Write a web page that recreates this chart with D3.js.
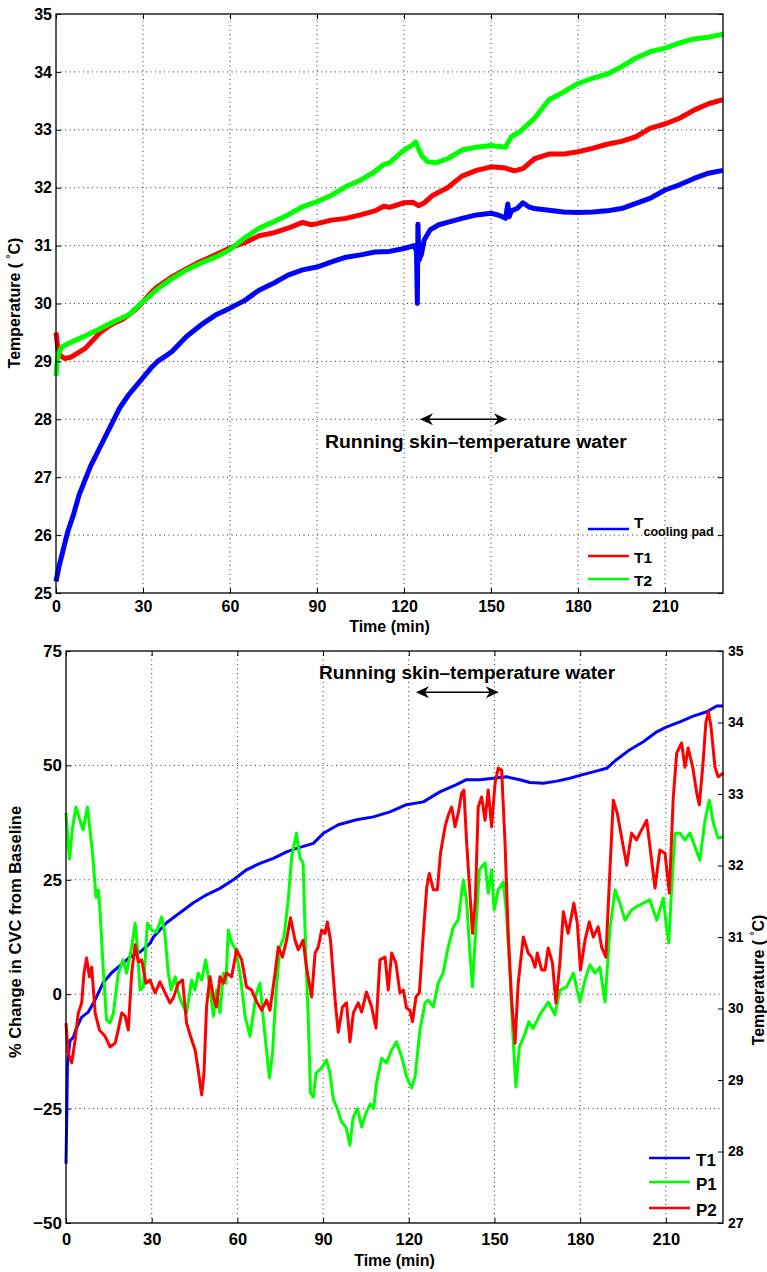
<!DOCTYPE html>
<html>
<head>
<meta charset="utf-8">
<script src="https://cdn.jsdelivr.net/npm/d3@7"></script>
<style>
  body { margin: 0; background: #fff; }
  svg { display: block; font-family: "Liberation Sans", Arial, Helvetica, sans-serif; font-weight: bold; }
</style>
</head>
<body>
<svg id="chart" width="767" height="1272"></svg>
<script>
// ---- data: [time (min), value] ----

// top panel, temperatures (°C)
const padTemp = [[0,25.2],[1,25.45],[2,25.65],[4,26.05],[6,26.35],[8,26.7],[10,26.95],[12,27.2],[15,27.5],[18,27.8],[20,28.0],[22,28.2],[25,28.42],[28,28.6],[30,28.72],[33,28.9],[35,29.0],[38,29.1],[40,29.17],[45,29.43],[50,29.63],[55,29.8],[60,29.92],[65,30.05],[70,30.23],[75,30.35],[80,30.49],[85,30.58],[90,30.63],[95,30.72],[100,30.8],[105,30.84],[110,30.89],[115,30.9],[120,30.95],[123.5,31.0],[124.3,30.9],[124.6,30.0],[124.8,31.37],[125.2,30.75],[126,30.85],[127,31.1],[129,31.27],[132,31.36],[135,31.4],[140,31.47],[145,31.53],[150,31.56],[153,31.52],[155,31.47],[155.8,31.72],[156.3,31.5],[157,31.6],[159,31.64],[161,31.74],[163,31.67],[165,31.64],[170,31.61],[175,31.58],[180,31.57],[185,31.58],[190,31.6],[195,31.64],[200,31.73],[205,31.82],[210,31.96],[215,32.05],[220,32.16],[225,32.25],[230,32.3]];
const t1Temp = [[0,29.5],[0.7,29.2],[1.5,29.1],[3,29.05],[5,29.07],[7,29.13],[10,29.22],[13,29.38],[15,29.49],[18,29.6],[20,29.66],[23,29.73],[25,29.8],[28,29.92],[30,30.03],[33,30.2],[35,30.29],[40,30.46],[45,30.6],[50,30.73],[55,30.84],[60,30.96],[65,31.05],[70,31.17],[75,31.22],[80,31.3],[85,31.4],[88,31.36],[90,31.38],[95,31.44],[100,31.47],[105,31.53],[110,31.6],[113,31.68],[115,31.66],[120,31.74],[123,31.75],[125,31.69],[127,31.74],[130,31.87],[135,32.0],[140,32.2],[145,32.3],[150,32.36],[155,32.34],[158,32.29],[161,32.33],[165,32.5],[170,32.58],[175,32.58],[180,32.62],[185,32.68],[190,32.75],[195,32.8],[200,32.88],[205,33.03],[210,33.1],[215,33.2],[220,33.34],[225,33.45],[230,33.52]];
const t2Temp = [[0,28.75],[0.4,29.0],[1,29.15],[2,29.25],[4,29.3],[6,29.35],[10,29.44],[15,29.56],[20,29.69],[25,29.8],[30,30.03],[35,30.25],[40,30.43],[45,30.58],[50,30.7],[55,30.8],[60,30.93],[65,31.13],[70,31.3],[75,31.41],[80,31.53],[85,31.67],[90,31.76],[95,31.87],[100,32.02],[105,32.13],[110,32.28],[113,32.4],[115,32.43],[120,32.65],[123,32.74],[124,32.79],[126,32.56],[128,32.45],[131,32.43],[135,32.5],[140,32.65],[145,32.7],[150,32.73],[155,32.7],[157,32.88],[160,32.97],[165,33.2],[170,33.52],[175,33.65],[180,33.8],[185,33.89],[190,33.96],[195,34.09],[200,34.24],[205,34.35],[210,34.41],[215,34.5],[220,34.57],[225,34.6],[230,34.65]];

// bottom panel, % change in CVC (left axis) and T1 (right axis)
const p1Cvc = [[0,39.6],[1.2,29.5],[2.2,36],[3.5,40.9],[4.9,38],[6,35.9],[7.5,40.9],[8.4,35.9],[9.4,30],[10.5,21.2],[11.3,22.8],[11.9,18.4],[13.1,4.6],[14.2,-5.6],[15.4,-6.3],[16.6,-4.1],[18.3,4.6],[20,7.5],[21.2,4.6],[23,10.3],[24.2,15.5],[25,10.3],[25.9,0.9],[27.1,1.6],[28.5,15.5],[30,14],[31.7,13.6],[33.5,16.9],[34.6,13.3],[35.8,4.6],[36.8,0.9],[38.2,3.8],[39.3,0.3],[40.5,-1.9],[42.2,-4.1],[44,3.1],[45.1,0.9],[46.3,4.6],[47.5,3.1],[48.9,7.5],[50,3.1],[51.6,-4.8],[52.7,0.9],[53.9,-4.1],[55.1,4.6],[56,2.4],[56.8,14],[58,11.2],[59.2,10.1],[60.9,4.6],[62.7,-4.8],[64.4,-9.2],[65.6,-4.1],[66.7,0.3],[67.9,2.4],[69.1,-5.6],[70.2,-12.2],[71.2,-18.3],[72.3,-12.9],[73.5,0.3],[74.9,10.3],[76.3,12.5],[77.8,20.6],[79,30],[80.7,35.2],[81.9,29.8],[83,28.7],[84,7.5],[84.8,-5],[85.6,-21.6],[86.6,-22.5],[87.5,-17.3],[89.5,-16.1],[91.2,-14.4],[92.4,-17.3],[93.6,-23],[95,-25],[96.5,-28],[98,-29],[99.4,-33],[100.5,-27],[102,-25],[103.5,-29],[105,-26],[106.5,-24],[107.7,-25],[108.7,-19.4],[110.5,-14],[112.2,-15],[114,-12.2],[115.7,-10.4],[117.5,-13.7],[119.2,-18],[121,-20.5],[122.2,-18],[123.9,-7.8],[125.7,-1.9],[126.8,-1.3],[128.6,-2.8],[130.3,2.4],[132,4.6],[133.8,10.3],[135.6,14.7],[137.3,16.2],[139.1,25],[140.2,20.6],[141.4,9],[142.3,1.6],[143.5,14.7],[144.7,27.2],[146.7,28.7],[147.8,22.1],[149,27.2],[149.9,18.4],[151.3,22.8],[153.1,24.5],[154.2,17.7],[155.4,4.6],[156.3,-7.2],[157.5,-20.3],[158.7,-11.5],[160.5,-9],[162,-6],[163.5,-7.5],[165.9,-4.5],[168.8,-1.7],[171.2,-4.5],[172.9,0.9],[175.3,1.6],[177.6,4.6],[179.9,-1.7],[181.7,3.1],[183.4,6.4],[185.2,4.6],[186.9,5.9],[188.7,-1.7],[190.4,14],[192.2,22.8],[193.9,19.9],[195.7,16.2],[198,18.4],[199.7,19.1],[202.1,19.9],[204.4,20.6],[206.8,16.2],[209.1,21],[210.2,14.7],[211,11.2],[212,22.8],[213.2,35.2],[214.9,35.2],[216.7,33.7],[218.4,35.2],[220.2,32.2],[221.9,29.3],[223.7,38],[225.2,42.4],[226.6,37.4],[228.3,34.1],[230,34.4]];
const p2Cvc = [[0,-6.3],[0.8,-12.9],[2,-15],[3.2,-10],[4.3,-4.1],[5.5,-1.9],[6.3,4.6],[7.2,7.9],[8.2,3.8],[9,5.9],[10.2,-4.1],[11.7,-7.8],[13.7,-9.2],[15.4,-11.5],[17.2,-10.7],[18.3,-7.8],[19.5,-4.1],[20.7,-4.8],[21.8,-7.8],[23,4.6],[24.2,10.8],[25.3,7.1],[26.5,7.5],[28,2.4],[29.4,3.1],[31.2,0.3],[32.9,2.7],[34.7,0.3],[36.4,-1.9],[37.6,-0.8],[39.3,2.4],[40.8,3.1],[42.2,-6.3],[43.6,-9.2],[45.2,-12.2],[46.3,-16.6],[47.5,-22],[48.3,-17.3],[49.2,-2.8],[50.4,3.8],[51.6,-0.6],[52.7,-2.8],[53.9,3.8],[55.1,2.4],[56.2,4.6],[58,3.8],[59.7,9.7],[61.5,7.5],[63.2,1.6],[65,0.9],[66.7,-1.6],[68.5,-3.5],[70.2,-1.3],[71.4,-3.5],[73.2,4.6],[74.3,10.3],[75.8,8.1],[77.2,11.8],[78.6,16.7],[80.2,11.8],[81.3,9.7],[83,11.8],[84.2,5.9],[86,-0.6],[87.2,9],[88.3,10.3],[89.5,14],[90.7,13.3],[91.5,15.8],[92.6,11.8],[94.2,-1.3],[95.3,-8.3],[96.8,-2.8],[98.2,-1.9],[99.4,-10.4],[100.6,-4.1],[102.3,-1.9],[103.5,-3.9],[105.2,0.5],[107,-2.8],[108.5,-7.4],[109.9,7.5],[111.7,8.1],[112.8,0.9],[114,9],[115.5,6.8],[116.9,0.3],[118.1,0.9],[119.2,-3],[120.4,-3.5],[121.3,-6],[122.5,-0.6],[123.7,0.3],[125.1,13.3],[126.3,23.5],[127.2,26.4],[128.6,22.8],[130,22.8],[131.1,30.8],[132.7,36.6],[133.8,39.1],[135,40.9],[136.2,36.6],[137.3,39.5],[138.5,43.9],[139.3,44.6],[140.2,33.7],[141.4,22.1],[142.3,13.3],[143.3,20.6],[144.3,40.9],[145.5,43.1],[146.7,38],[147.8,44.6],[149,36.6],[150.2,46.1],[151.3,49.4],[152.5,49],[153.7,33],[154.8,13.3],[156,-1.3],[157.2,-10.7],[158.3,2.4],[160.1,12.5],[161.8,9],[163,8.1],[164.2,5.9],[165,9],[166.5,5.3],[167.7,5.3],[168.8,10.1],[170.3,6.8],[171.5,-1.9],[172.9,6.8],[174.1,18],[175.8,13.3],[177.8,19.9],[179,15.5],[180.1,5.3],[181.7,11.8],[183.2,15.8],[184.6,12.5],[186.3,14.7],[187.5,10.3],[189,8.1],[190.2,24.3],[191.6,42.4],[193,39.5],[195.1,32.2],[196.3,28.2],[198,35.2],[199.7,33.7],[201.5,35.9],[203.3,38],[204.7,30.8],[206.2,23.2],[207.9,31.5],[209.7,30.8],[211.2,22.1],[212.6,43.1],[213.8,52.7],[215.5,54.9],[216.7,49.6],[217.8,53.8],[219.4,49.6],[220.8,44],[221.7,41.4],[222.9,49.6],[224,59.3],[224.9,61.7],[225.8,58.4],[227.2,49.6],[228.3,47.5],[230,48.3]];
const t1Right = [[0,27.83],[0.3,28.6],[0.5,29.2],[1.4,29.55],[2.6,29.6],[3.7,29.73],[5.5,29.88],[7.8,29.95],[10.2,30.12],[13,30.36],[16,30.5],[18.9,30.6],[22.4,30.72],[25.9,30.79],[29.4,30.91],[30.6,31.0],[35.2,31.2],[39.9,31.34],[44.6,31.48],[49.2,31.59],[53.9,31.68],[58.6,31.8],[63.2,31.94],[67.9,32.03],[72.6,32.1],[77.2,32.19],[80.7,32.24],[86.6,32.31],[90.1,32.45],[95.3,32.57],[101.7,32.64],[107.6,32.68],[113.4,32.75],[119.2,32.85],[125.1,32.89],[130.9,33.03],[136.7,33.13],[140.2,33.2],[144.9,33.2],[149.6,33.22],[154.2,33.24],[158.9,33.2],[162.4,33.16],[167.1,33.15],[171.8,33.18],[176.4,33.22],[179.9,33.26],[184.6,33.31],[189.3,33.36],[192.7,33.48],[197.4,33.62],[202.1,33.73],[206.8,33.87],[210.3,33.94],[214.9,34.01],[219.6,34.09],[224.3,34.15],[227.8,34.23],[230,34.23]];

// ticks
const minuteTicks = [0, 30, 60, 90, 120, 150, 180, 210];
const topTempTicks = [25, 26, 27, 28, 29, 30, 31, 32, 33, 34, 35];
const cvcTicks = [-50, -25, 0, 25, 50, 75];
const rightTempTicks = [27, 28, 29, 30, 31, 32, 33, 34, 35];

// legends
const topNames = ['T1', 'T2'];
const bottomNames = ['T1', 'P1', 'P2'];
const blue = '#0000ff', red = '#ff0000', green = '#00ff00';

const svg = d3.select('#chart');
svg.append('rect').attr('width', 767).attr('height', 1272).attr('fill', '#fff');

function drawGrid(g, x, y, xTicks, yTicks) {
  const [x0, x1] = x.range();
  const [y0, y1] = y.range();
  const inner = (s, t) => t.filter(d => d > s.domain()[0] && d < s.domain()[1]);
  g.selectAll(null).data(inner(x, xTicks)).join('line')
    .attr('x1', d => x(d)).attr('x2', d => x(d)).attr('y1', y0).attr('y2', y1);
  g.selectAll(null).data(inner(y, yTicks)).join('line')
    .attr('y1', d => y(d)).attr('y2', d => y(d)).attr('x1', x0).attr('x2', x1);
  g.attr('stroke', '#333').attr('stroke-width', 1).attr('stroke-dasharray', '1,3.5');
}

function styleAxis(g, size) {
  g.attr('font-family', null).attr('font-size', size);
  g.select('.domain').remove();
  g.selectAll('.tick line').attr('stroke', '#000').attr('stroke-width', 1);
  g.selectAll('.tick text').attr('fill', '#000');
}

function dblArrow(g, xa, xb, y) {
  g.append('line').attr('x1', xa + 4).attr('x2', xb - 4).attr('y1', y).attr('y2', y)
    .attr('stroke', '#000').attr('stroke-width', 1.5);
  g.append('path').attr('d', `M${xa},${y}L${xa + 13},${y - 6}L${xa + 9},${y}L${xa + 13},${y + 6}Z`).attr('fill', '#000');
  g.append('path').attr('d', `M${xb},${y}L${xb - 13},${y - 6}L${xb - 9},${y}L${xb - 13},${y + 6}Z`).attr('fill', '#000');
}

function tempTitle(g, transform) {
  const t = g.append('text').attr('transform', transform)
    .attr('text-anchor', 'middle').attr('font-size', 16);
  t.append('tspan').text('Temperature ( ');
  t.append('tspan').attr('dy', -6).attr('font-size', 10).text('°');
  t.append('tspan').attr('dy', 6).text('C)');
}

// ================= top panel =================
const xTop = d3.scaleLinear().domain([0, 230]).range([56, 723]);
const yTop = d3.scaleLinear().domain([25, 35]).range([593, 14]);
const topPanel = svg.append('g');

drawGrid(topPanel.append('g'), xTop, yTop, minuteTicks, topTempTicks);

const lineTop = d3.line().x(d => xTop(d[0])).y(d => yTop(d[1]));
[[padTemp, blue], [t1Temp, red], [t2Temp, green]].forEach(([data, c]) => {
  topPanel.append('path').datum(data).attr('d', lineTop).attr('fill', 'none')
    .attr('stroke', c).attr('stroke-width', 5).attr('stroke-linejoin', 'round');
});

topPanel.append('g').attr('transform', 'translate(0,593)')
  .call(d3.axisBottom(xTop).tickValues(minuteTicks).tickSize(-5).tickPadding(8))
  .call(styleAxis, 16);
topPanel.append('g').attr('transform', 'translate(0,14)')
  .call(d3.axisTop(xTop).tickValues(minuteTicks).tickSize(-5).tickFormat(''))
  .call(styleAxis, 16);
topPanel.append('g').attr('transform', 'translate(56,0)')
  .call(d3.axisLeft(yTop).tickValues(topTempTicks).tickSize(-5).tickPadding(4))
  .call(styleAxis, 16);
topPanel.append('g').attr('transform', 'translate(723,0)')
  .call(d3.axisRight(yTop).tickValues(topTempTicks).tickSize(-5).tickFormat(''))
  .call(styleAxis, 16);
topPanel.append('rect').attr('x', 56).attr('y', 14).attr('width', 667).attr('height', 579)
  .attr('fill', 'none').attr('stroke', '#000').attr('stroke-width', 1.3);

topPanel.append('text').attr('x', 389.5).attr('y', 632).attr('text-anchor', 'middle')
  .attr('font-size', 16).text('Time (min)');
tempTitle(topPanel, 'translate(20,303) rotate(-90)');

dblArrow(topPanel, xTop(125.5), xTop(155.5), yTop(28));
topPanel.append('text').attr('x', xTop(144.8)).attr('y', yTop(27.5)).attr('text-anchor', 'middle')
  .attr('font-size', 18).attr('textLength', 302).attr('lengthAdjust', 'spacingAndGlyphs')
  .text('Running skin\u2013temperature water');

// legend
const legTop = topPanel.append('g');
const legTopY = [529, 556, 579];
[blue, red, green].forEach((c, i) => {
  legTop.append('line').attr('x1', 588).attr('x2', 629).attr('y1', legTopY[i]).attr('y2', legTopY[i])
    .attr('stroke', c).attr('stroke-width', 2.5);
});
const padLabel = legTop.append('text').attr('x', 634).attr('y', legTopY[0] - 1).attr('font-size', 15.5);
padLabel.append('tspan').text('T');
padLabel.append('tspan').attr('dy', 8).attr('font-size', 12.5).text('cooling pad');
topNames.forEach((n, i) => {
  legTop.append('text').attr('x', 634).attr('y', legTopY[i + 1] + 7).attr('font-size', 15.5).text(n);
});

// ================= bottom panel =================
const xBot = d3.scaleLinear().domain([0, 230]).range([66, 723]);
const yLeft = d3.scaleLinear().domain([-50, 75]).range([1223, 651]);
const yRight = d3.scaleLinear().domain([27, 35]).range([1223, 651]);
const botPanel = svg.append('g');

drawGrid(botPanel.append('g'), xBot, yLeft, minuteTicks, cvcTicks);

const lineLeft = d3.line().x(d => xBot(d[0])).y(d => yLeft(d[1]));
const lineRight = d3.line().x(d => xBot(d[0])).y(d => yRight(d[1]));
botPanel.append('path').datum(t1Right).attr('d', lineRight).attr('fill', 'none')
  .attr('stroke', blue).attr('stroke-width', 3).attr('stroke-linejoin', 'round');
botPanel.append('path').datum(p1Cvc).attr('d', lineLeft).attr('fill', 'none')
  .attr('stroke', green).attr('stroke-width', 3).attr('stroke-linejoin', 'round');
botPanel.append('path').datum(p2Cvc).attr('d', lineLeft).attr('fill', 'none')
  .attr('stroke', red).attr('stroke-width', 3).attr('stroke-linejoin', 'round');

botPanel.append('g').attr('transform', 'translate(0,1223)')
  .call(d3.axisBottom(xBot).tickValues(minuteTicks).tickSize(-5).tickPadding(10))
  .call(styleAxis, 16.5);
botPanel.append('g').attr('transform', 'translate(0,651)')
  .call(d3.axisTop(xBot).tickValues(minuteTicks).tickSize(-5).tickFormat(''))
  .call(styleAxis, 16.5);
botPanel.append('g').attr('transform', 'translate(66,0)')
  .call(d3.axisLeft(yLeft).tickValues(cvcTicks).tickSize(-5).tickPadding(4))
  .call(styleAxis, 17);
botPanel.append('g').attr('transform', 'translate(723,0)')
  .call(d3.axisRight(yRight).tickValues(rightTempTicks).tickSize(-5).tickPadding(5))
  .call(styleAxis, 14);
botPanel.append('rect').attr('x', 66).attr('y', 651).attr('width', 657).attr('height', 572)
  .attr('fill', 'none').attr('stroke', '#000').attr('stroke-width', 1.3);

botPanel.append('text').attr('x', 394.5).attr('y', 1266).attr('text-anchor', 'middle')
  .attr('font-size', 16).text('Time (min)');
botPanel.append('text').attr('transform', 'translate(21,932) rotate(-90)')
  .attr('text-anchor', 'middle').attr('font-size', 16.5).text('% Change in CVC from Baseline');
tempTitle(botPanel, 'translate(764,980) rotate(-90)');

dblArrow(botPanel, xBot(122.5), xBot(151.5), yLeft(66));
botPanel.append('text').attr('x', xBot(140.4)).attr('y', yLeft(68.9)).attr('text-anchor', 'middle')
  .attr('font-size', 18).attr('textLength', 296).attr('lengthAdjust', 'spacingAndGlyphs')
  .text('Running skin\u2013temperature water');

const legBotY = [1158, 1182, 1208];
[blue, green, red].forEach((c, i) => {
  botPanel.append('line').attr('x1', 649).attr('x2', 690).attr('y1', legBotY[i]).attr('y2', legBotY[i])
    .attr('stroke', c).attr('stroke-width', 2.5);
  botPanel.append('text').attr('x', 696).attr('y', legBotY[i] + 7.5).attr('font-size', 17).text(bottomNames[i]);
});
</script>
</body>
</html>
